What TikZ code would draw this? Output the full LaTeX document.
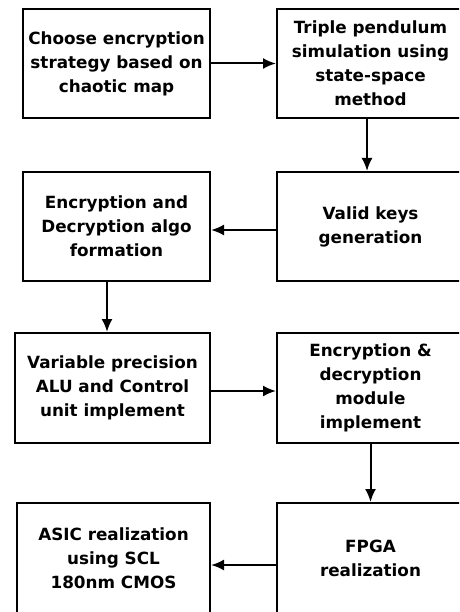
\documentclass[tikz,border=0pt]{standalone}
\usepackage{fontspec}
\setmainfont{DejaVu Sans}
\usetikzlibrary{arrows.meta}
\begin{document}
\begin{tikzpicture}[x=1pt,y=-1pt,
  box/.style={draw, line width=2pt, align=center, inner sep=0pt,
    font=\fontsize{16.8}{24}\selectfont\bfseries},
  arr/.style={line width=2pt, -{Latex[length=13pt,width=11pt]}}]
\useasboundingbox (0,0) rectangle (459,612);
\clip (0,0) rectangle (459,612);
\node[box, minimum width=187pt, minimum height=109pt] (b1) at (116.5,63.5) {Choose encryption\\strategy based on\\chaotic map\hspace{12pt}};
\node[box, minimum width=187pt, minimum height=109pt] (b2) at (370.5,63.5) {Triple pendulum\\simulation using\\state-space\hspace{10pt}\\method\hspace{20pt}};
\node[box, minimum width=187pt, minimum height=109pt] (b3) at (116.5,226.5) {Encryption and\\Decryption algo\\formation};
\node[box, minimum width=187pt, minimum height=109pt] (b4) at (370.5,226.5) {Valid keys\hspace{8pt}\\generation};
\node[box, minimum width=195pt, minimum height=110pt] (b5) at (112.5,388) {Variable precision\\ALU and Control\\unit implement};
\node[box, minimum width=187pt, minimum height=110pt] (b6) at (370.5,388) {Encryption \&\\decryption\\module\\implement};
\node[box, minimum width=193pt, minimum height=110pt] (b7) at (113.5,558) {ASIC realization\\using SCL\\180nm CMOS};
\node[box, minimum width=187pt, minimum height=110pt] (b8) at (370.5,558) {FPGA\\realization};
\draw[arr] (b1.east) -- (b2.west |- b1.east);
\draw[arr] ([xshift=-3.5pt]b2.south) -- ([xshift=-3.5pt]b2.south |- b4.north);
\draw[arr] ([yshift=-3.5pt]b4.west) -- ([yshift=-3.5pt]b3.east);
\draw[arr] ([xshift=-9.5pt]b3.south) -- ([xshift=-9.5pt]b3.south |- b5.north);
\draw[arr] ([yshift=-3pt]b5.east) -- ([yshift=-3pt]b5.east -| b6.west);
\draw[arr] (b6.south) -- (b8.north);
\draw[arr] ([yshift=-7pt]b8.west) -- ([yshift=-7pt]b8.west -| b7.east);
\end{tikzpicture}
\end{document}
